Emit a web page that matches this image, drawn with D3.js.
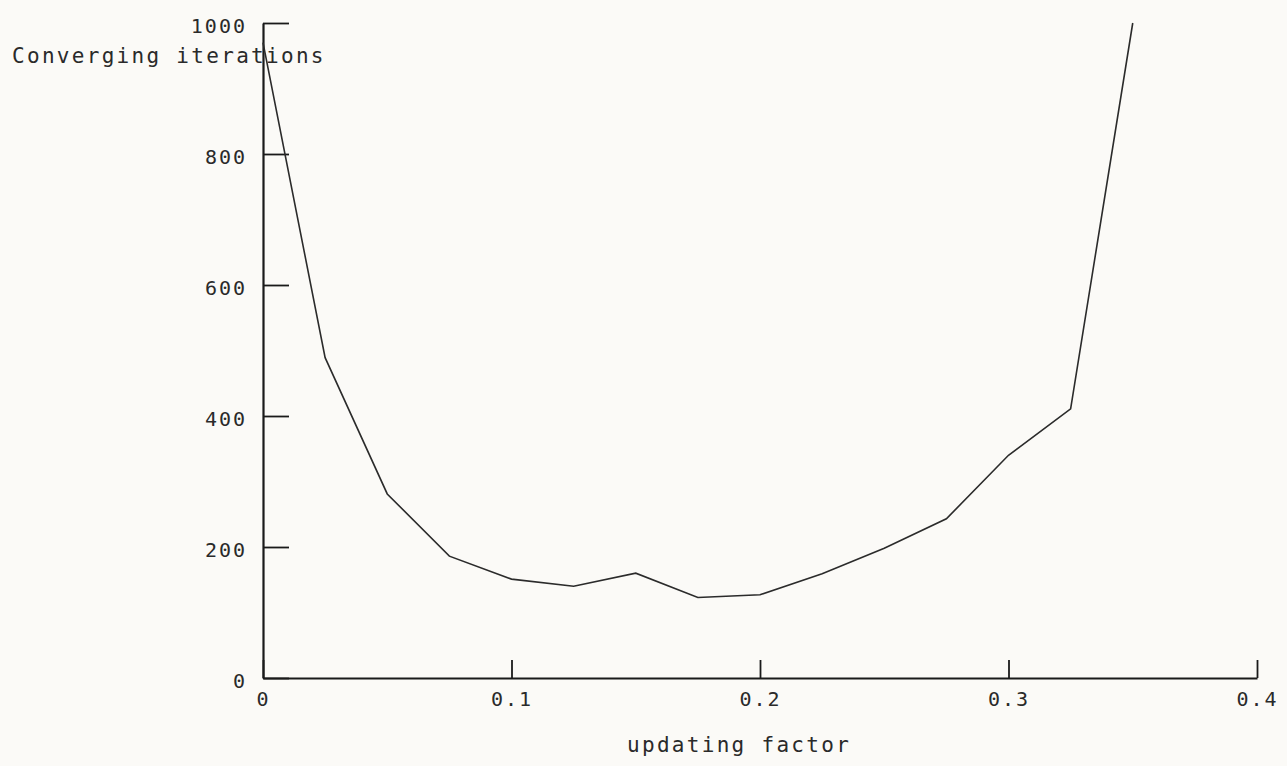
<!DOCTYPE html>
<html>
<head>
<meta charset="utf-8">
<script src="https://cdn.jsdelivr.net/npm/d3@7"></script>
<style>
  body { margin: 0; background: #fbfaf7; }
  text { font-family: "DejaVu Sans Mono", monospace; fill: #2a2a2a; }
</style>
</head>
<body>
<svg id="chart" width="1287" height="766"></svg>
<script>
// updating factor vs converging iterations
const factors = [0, 0.025, 0.05, 0.075, 0.1, 0.125, 0.15, 0.175, 0.2, 0.225, 0.25, 0.275, 0.3, 0.325, 0.35];
const iterations = [970, 489, 281, 186, 151, 140, 160, 123, 127, 159, 198, 243, 340, 411, 1000];
const xTicks = [0, 0.1, 0.2, 0.3, 0.4];
const yTicks = [0, 200, 400, 600, 800, 1000];

const svg = d3.select('#chart');

const x = d3.scaleLinear().domain([0, 0.4]).range([263, 1257]);
const y = d3.scaleLinear().domain([0, 1000]).range([678, 23]);

// x axis, ticks pointing up into the plot
const xAxis = svg.append('g')
  .attr('transform', 'translate(0,' + y(0) + ')')
  .call(d3.axisBottom(x).tickValues(xTicks).tickSizeInner(-18).tickSizeOuter(0)
    .tickPadding(14).tickFormat(d => d === 0 ? '0' : d3.format('.1f')(d)));

// y axis, ticks pointing right
const yAxis = svg.append('g')
  .attr('transform', 'translate(' + x(0) + ',0)')
  .call(d3.axisLeft(y).tickValues(yTicks).tickSizeInner(-26).tickSizeOuter(0)
    .tickPadding(16).tickFormat(d3.format('d')));

[xAxis, yAxis].forEach(function(g) {
  g.select('.domain').attr('stroke', '#1a1a1a').attr('stroke-width', 2.2);
  g.selectAll('.tick line').attr('stroke', '#1a1a1a').attr('stroke-width', 1.8);
  g.selectAll('.tick text')
    .style('font-family', '"DejaVu Sans Mono", monospace')
    .style('font-size', '20px')
    .style('letter-spacing', '2px')
    .attr('fill', '#2a2a2a');
});
yAxis.selectAll('.tick text').attr('dy', '0.45em');

// the curve
const line = d3.line()
  .x((d, i) => x(factors[i]))
  .y(d => y(d));

svg.append('path')
  .datum(iterations)
  .attr('fill', 'none')
  .attr('stroke', '#2b2b2b')
  .attr('stroke-width', 1.6)
  .attr('d', line);

// axis titles
svg.append('text')
  .attr('x', 12)
  .attr('y', 63)
  .style('font-size', '21px')
  .style('letter-spacing', '2.3px')
  .text('Converging iterations');

svg.append('text')
  .attr('x', 627)
  .attr('y', 752)
  .style('font-size', '21px')
  .style('letter-spacing', '2.3px')
  .text('updating factor');
</script>
</body>
</html>
